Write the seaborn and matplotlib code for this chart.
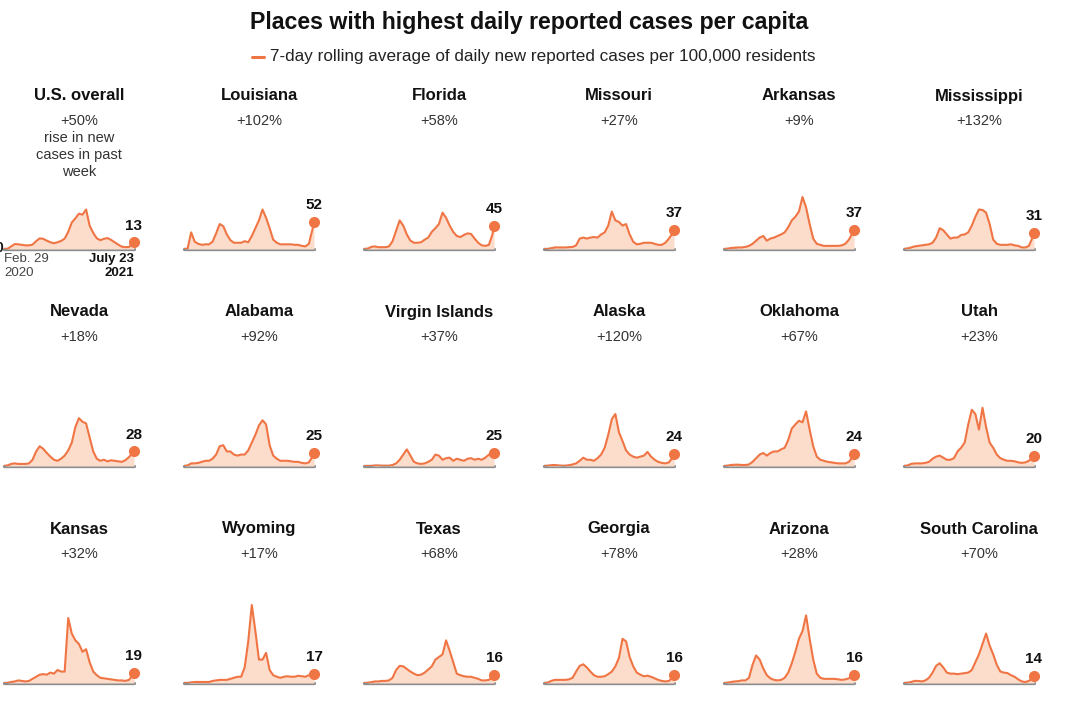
import pandas as pd
import numpy as np
import matplotlib.pyplot as plt
import seaborn as sns

sns.set_theme(style="white")
plt.rcParams['font.family'] = ['Liberation Sans', 'DejaVu Sans']

ORANGE = "#f07544"
PEACH = "#fcdccb"

# sample dates: every 14 days from Feb. 29 2020, plus the last day
dates = list(pd.date_range("2020-02-29", "2021-07-17", freq="14D")) + [pd.Timestamp("2021-07-23")]

places = ["U.S. overall", "Louisiana", "Florida", "Missouri", "Arkansas", "Mississippi",
          "Nevada", "Alabama", "Virgin Islands", "Alaska", "Oklahoma", "Utah",
          "Kansas", "Wyoming", "Texas", "Georgia", "Arizona", "South Carolina"]
changes = ["+50%", "+102%", "+58%", "+27%", "+9%", "+132%",
           "+18%", "+92%", "+37%", "+120%", "+67%", "+23%",
           "+32%", "+17%", "+68%", "+78%", "+28%", "+70%"]

# 7-day average of new cases per 100,000 residents
us = [0, 0.3, 5, 9.5, 9, 8, 7, 7, 8.5, 15, 20.5, 19.5, 16, 13, 11, 13, 15.5, 20, 33, 51,
      59, 68, 66, 76, 45, 31, 20.5, 17, 19.5, 21, 17.5, 13, 8.5, 4.5, 3.5, 4, 9.5, 13]
louisiana = [0, 0.5, 32, 14, 10, 8, 9, 9, 14, 30, 48, 44, 28, 17, 12, 12, 12, 15, 13, 25,
             40, 55, 76, 60, 40, 18, 12, 9, 9, 9, 9, 8, 8, 6, 5, 10, 38, 52]
florida = [0, 0.5, 4, 5, 3.5, 3.5, 3.5, 5, 15, 35, 55, 45, 28, 16, 12, 12, 13, 18, 22, 33,
           40, 48, 70, 60, 45, 33, 25, 23, 27, 30, 29, 20, 12, 7, 6, 8, 28, 45]
missouri = [0, 0, 1.5, 3, 3, 3, 3, 3.5, 4, 7, 20, 22, 20, 22, 23, 22, 28, 32, 45, 72,
            55, 52, 45, 48, 28, 14, 9, 10, 12, 12, 12, 10, 8, 8, 12, 20, 30, 37]
arkansas = [0, 0.5, 2, 2.5, 3, 3, 4, 6, 10, 16, 22, 25, 16, 20, 22, 25, 28, 32, 42, 55,
            62, 72, 100, 80, 48, 20, 10, 8, 6, 6, 6, 6, 6, 7, 10, 18, 30, 37]
mississippi = [0, 1, 3, 5, 6, 7, 8, 9, 12, 22, 40, 36, 28, 20, 22, 22, 27, 28, 32, 45,
               62, 76, 75, 70, 48, 18, 10, 8, 8, 8, 9, 7, 6, 3, 3, 6, 22, 31]
nevada = [0, 1, 4, 5, 4, 4, 4, 5, 12, 28, 38, 33, 25, 18, 12, 10, 14, 20, 30, 45,
          75, 92, 85, 82, 55, 28, 14, 10, 12, 9, 11, 10, 9, 8, 11, 17, 25, 28]
alabama = [0, 1, 5, 5, 6, 8, 10, 10, 14, 22, 38, 40, 28, 28, 22, 20, 22, 22, 30, 45,
           60, 78, 88, 80, 40, 20, 14, 10, 10, 10, 9, 8, 8, 6, 5, 7, 18, 25]
virgin_islands = [0, 0, 0, 1, 1, 0.5, 0.5, 0.5, 2, 5, 12, 22, 32, 20, 8, 5, 4, 5, 8, 12,
                  22, 20, 12, 15, 16, 10, 14, 12, 10, 14, 15, 12, 14, 12, 16, 22, 18, 25]
alaska = [0, 0.5, 1.5, 2, 1, 0.5, 0.5, 1.5, 3, 5, 10, 16, 12, 12, 10, 15, 22, 35, 60, 90,
          100, 65, 48, 30, 22, 18, 16, 18, 20, 27, 18, 12, 8, 6, 5, 7, 16, 24]
oklahoma = [0, 0.5, 2, 2.5, 2.5, 2, 2, 3, 8, 15, 22, 25, 20, 25, 28, 28, 32, 35, 50, 72,
            80, 87, 84, 105, 70, 38, 18, 12, 10, 8, 7, 6, 5, 5, 5, 8, 17, 24]
utah = [0, 1, 4, 5, 5, 5, 6, 8, 14, 18, 20, 16, 12, 12, 15, 28, 35, 45, 80, 108,
        100, 70, 112, 75, 45, 35, 22, 15, 12, 10, 10, 9, 7, 6, 7, 10, 15, 20]
kansas = [0, 0, 2, 3, 5, 4, 3, 4, 8, 12, 16, 17, 16, 20, 18, 25, 22, 22, 125, 95,
          82, 75, 60, 65, 40, 22, 15, 10, 9, 8, 7, 6, 5, 5, 4, 6, 14, 19]
wyoming = [0, 0, 1, 2, 2, 2, 2, 2, 4, 5, 6, 6, 6, 8, 10, 12, 12, 30, 80, 150,
           100, 45, 45, 58, 25, 15, 12, 10, 12, 13, 12, 12, 14, 13, 12, 15, 16, 17]
texas = [0, 0.2, 1.5, 3, 3, 4, 4, 5, 10, 25, 33, 32, 27, 22, 18, 15, 16, 20, 26, 32,
         45, 50, 55, 82, 62, 40, 18, 15, 13, 12, 12, 10, 8, 5, 5, 6, 11, 16]
georgia = [0, 0.5, 4, 6, 6, 6, 6, 7, 10, 22, 33, 36, 30, 22, 15, 12, 12, 13, 17, 22,
           32, 48, 85, 80, 50, 32, 20, 16, 13, 14, 12, 9, 6, 4, 3, 4, 10, 16]
arizona = [0, 0.5, 2, 3, 3.5, 5, 5, 10, 35, 53, 45, 28, 15, 9, 6, 5, 6, 10, 20, 38,
           60, 85, 100, 130, 85, 45, 18, 10, 8, 8, 8, 8, 7, 6, 7, 9, 13, 16]
south_carolina = [0, 0.5, 2, 4, 4, 3, 5, 10, 20, 33, 38, 30, 20, 18, 18, 17, 18, 19, 20, 25,
                  40, 55, 75, 95, 72, 55, 35, 22, 20, 19, 15, 12, 7, 3, 2, 4, 9, 14]

series = [us, louisiana, florida, missouri, arkansas, mississippi,
          nevada, alabama, virgin_islands, alaska, oklahoma, utah,
          kansas, wyoming, texas, georgia, arizona, south_carolina]

rows = []
for name, vals in zip(places, series):
    for d, v in zip(dates, vals):
        rows.append({"place": name, "date": d, "cases": v})
df = pd.DataFrame(rows)

W, H = 1073, 723
fig = plt.figure(figsize=(W / 100, H / 100), dpi=100)

fig.text(529 / W, 1 - 22 / H, "Places with highest daily reported cases per capita",
         ha="center", va="center", fontsize=16.7, fontweight="bold", color="#111111")
fig.text(270 / W, 1 - 56 / H, "7-day rolling average of daily new reported cases per 100,000 residents",
         ha="left", va="center", fontsize=12.3, color="#222222")
fig.lines.append(plt.Line2D([252 / W, 264 / W], [1 - 57 / H, 1 - 57 / H],
                            transform=fig.transFigure, color=ORANGE, lw=2.2))

baselines = [249, 466, 683]
title_y = [96, 312, 529]
x0, x1 = dates[0], dates[-1]

for i, name in enumerate(places):
    r, c = divmod(i, 6)
    left = 4 + 180 * c
    base = baselines[r]
    ax = fig.add_axes([left / W, (H - base) / H, 130 / W, 104 / H])
    sub = df[df["place"] == name]
    ax.fill_between(sub["date"], 0, sub["cases"], color=PEACH, lw=0)
    sns.lineplot(data=sub, x="date", y="cases", ax=ax, color=ORANGE, lw=1.5)
    last = sub.iloc[-1]
    ax.plot([last["date"]], [last["cases"]], "o", color=ORANGE, ms=7, clip_on=False)
    ax.annotate(f"{last['cases']:.0f}", (last["date"], last["cases"]), xytext=(0, 12),
                textcoords="offset points", ha="center", va="center",
                fontsize=11, fontweight="bold", color="#111111")
    ax.axhline(0, color="#8c8c8c", lw=2.4, clip_on=False, zorder=0.5)
    ax.set_xlim(x0, x1)
    ax.set_ylim(0, 200)
    ax.axis("off")

    cx = (79 + 180 * c) / W
    fig.text(cx, 1 - title_y[r] / H, name, ha="center", va="center",
             fontsize=12, fontweight="bold", color="#111111")
    fig.text(cx, 1 - (title_y[r] + 25) / H, changes[i], ha="center", va="center",
             fontsize=10.5, color="#333333")

# extra notes on the first panel
for k, line in enumerate(["rise in new", "cases in past", "week"]):
    fig.text(79 / W, 1 - (138 + 17 * k) / H, line, ha="center", va="center",
             fontsize=10.5, color="#333333")
fig.text(4 / W, 1 - 259 / H, "Feb. 29", ha="left", va="center", fontsize=9.5, color="#444444")
fig.text(4 / W, 1 - 273 / H, "2020", ha="left", va="center", fontsize=9.5, color="#444444")
fig.text(134 / W, 1 - 259 / H, "July 23", ha="right", va="center", fontsize=9.5,
         fontweight="bold", color="#111111")
fig.text(134 / W, 1 - 273 / H, "2021", ha="right", va="center", fontsize=9.5,
         fontweight="bold", color="#111111")
fig.text(3 / W, 1 - 248 / H, "0", ha="right", va="center", fontsize=10,
         fontweight="bold", color="#111111")

fig.savefig("out.png", dpi=100, facecolor="white")
